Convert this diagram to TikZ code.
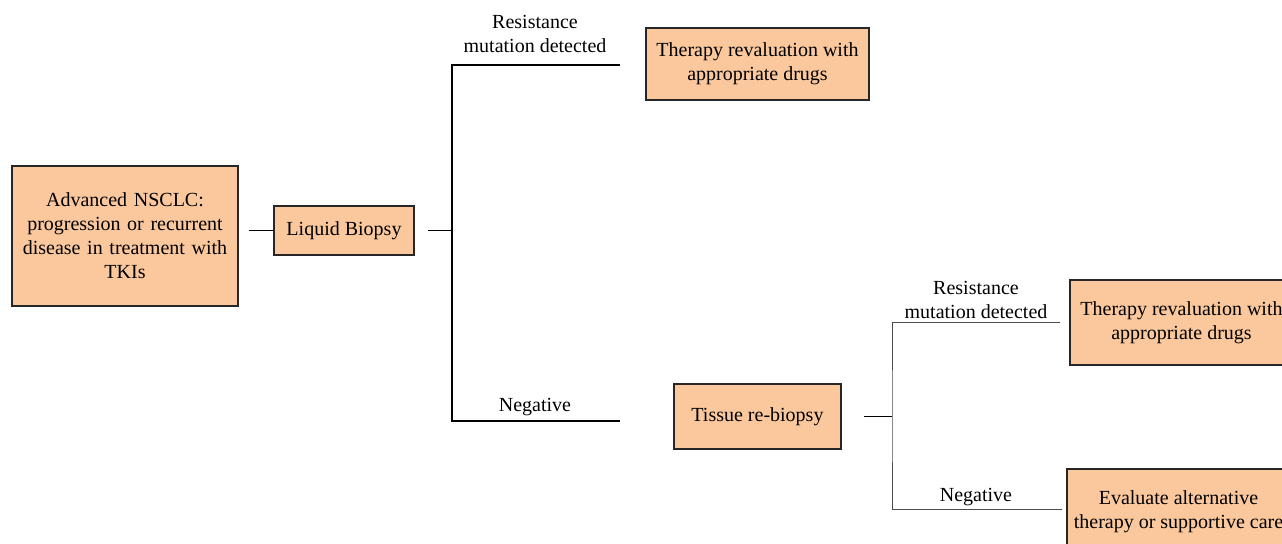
\documentclass[tikz,border=0pt]{standalone}
\usepackage{fontspec}
\setmainfont{Liberation Serif}
\newfontfamily\timesfont{Liberation Serif}
\usepackage{xcolor}
\usepackage{tikz}
\definecolor{peach}{HTML}{FAC89C}

\tikzset{
  box/.style={draw=black!85, fill=peach, line width=0.65pt, align=center, inner sep=2pt, font=\timesfont\fontsize{10}{12}\selectfont},
  branch/.style={line width=0.65pt},
  subbranch/.style={line width=0.5pt, draw=black!70},
  lbl/.style={align=center, inner sep=0pt, font=\timesfont\fontsize{10}{12}\selectfont}
}

\begin{document}
\begin{tikzpicture}[x=0.5pt, y=-0.5pt]
  \useasboundingbox (0,0) rectangle (1282,544);
  \clip (0,0) rectangle (1282,544);

  % boxes
  \node[box, minimum width=113pt, minimum height=70pt, text width=105pt] (adv) at (125,236)
    {Advanced NSCLC:\\ progression or recurrent\\ disease in treatment with\\ TKIs};
  \node[box, minimum width=70pt, minimum height=24.5pt] (liquid) at (344,230.5) {Liquid Biopsy};
  \node[box, minimum width=111.5pt, minimum height=36pt] (therapyA) at (757.5,64)
    {Therapy revaluation with\\ appropriate drugs};
  \node[box, minimum width=83.5pt, minimum height=32.5pt] (tissue) at (757.5,416.5) {Tissue re-biopsy};
  \node[box, minimum width=111.5pt, minimum height=42.5pt] (therapyB) at (1181.5,322.5)
    {Therapy revaluation with\\ appropriate drugs};
  \node[box, minimum width=111.5pt, minimum height=42.5pt] (evaluate) at (1178.5,511.5)
    {Evaluate alternative\\ therapy or supportive care};

  % first split
  \coordinate (j1) at (452,230.5);
  \coordinate (r1) at (620,65);
  \coordinate (n1) at (620,421);
  \draw[branch] ([xshift=5pt]adv.east |- liquid.west) -- (liquid.west);
  \draw[branch] ([xshift=6.5pt]liquid.east) -- (j1);
  \draw[branch] (r1) -| (j1) |- (n1);
  \node[lbl] (resA) at (535,33.5) {Resistance\\ mutation detected};
  \node[lbl] (negA) at (535,407) {Negative};

  % second split
  \coordinate (j2) at (892,416.5);
  \coordinate (r2) at (1060,323);
  \coordinate (n2) at (1062,510);
  \draw[branch] ([xshift=11pt]tissue.east) -- (j2);
  \draw[subbranch] (r2) -| (j2) |- (n2);
  \node[lbl] (resB) at (976,300) {Resistance\\ mutation detected};
  \node[lbl] (negB) at (976,497) {Negative};
\end{tikzpicture}
\end{document}
